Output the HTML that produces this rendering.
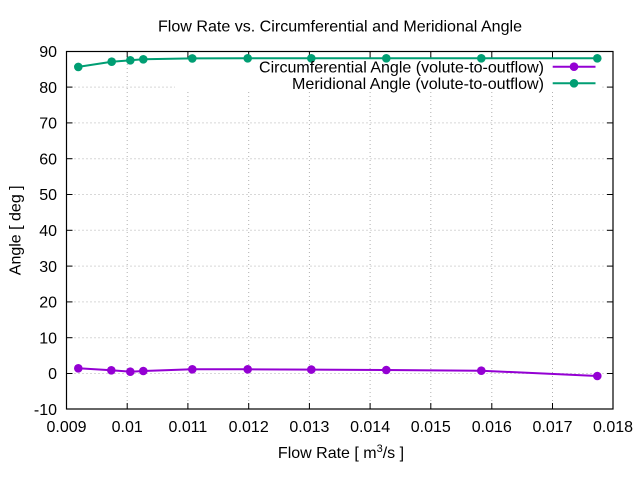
<!DOCTYPE html>
<html><head><meta charset="utf-8"><style>
html,body{margin:0;padding:0;background:#fff}
svg{display:block}
text{font-family:"Liberation Sans",Arial,sans-serif;fill:#000}
</style></head><body>
<svg width="640" height="480" viewBox="0 0 640 480" xmlns="http://www.w3.org/2000/svg">
<rect x="0" y="0" width="640" height="480" fill="#fff"/>
<!-- grid -->
<g stroke="#b0b0b0" stroke-width="1" stroke-dasharray="1,3" fill="none">
<line x1="127.2" y1="409" x2="127.2" y2="51.5"/>
<line x1="187.9" y1="409" x2="187.9" y2="51.5"/>
<line x1="248.7" y1="409" x2="248.7" y2="51.5"/>
<line x1="309.4" y1="409" x2="309.4" y2="51.5"/>
<line x1="370.1" y1="409" x2="370.1" y2="51.5"/>
<line x1="430.8" y1="409" x2="430.8" y2="51.5"/>
<line x1="491.8" y1="409" x2="491.8" y2="51.5"/>
<line x1="552.5" y1="409" x2="552.5" y2="51.5"/>
<line x1="66.5" y1="87.1" x2="613" y2="87.1"/>
<line x1="66.5" y1="122.9" x2="613" y2="122.9"/>
<line x1="66.5" y1="158.7" x2="613" y2="158.7"/>
<line x1="66.5" y1="194.5" x2="613" y2="194.5"/>
<line x1="66.5" y1="230.3" x2="613" y2="230.3"/>
<line x1="66.5" y1="266.1" x2="613" y2="266.1"/>
<line x1="66.5" y1="301.9" x2="613" y2="301.9"/>
<line x1="66.5" y1="337.7" x2="613" y2="337.7"/>
<line x1="66.5" y1="373.5" x2="613" y2="373.5"/>
</g>
<!-- key opaque box -->
<rect x="175" y="60" width="425" height="32" fill="#fff"/>
<!-- ticks -->
<g stroke="#000" stroke-width="1">
<line x1="127.2" y1="409" x2="127.2" y2="403"/><line x1="127.2" y1="51.5" x2="127.2" y2="57.5"/>
<line x1="187.9" y1="409" x2="187.9" y2="403"/><line x1="187.9" y1="51.5" x2="187.9" y2="57.5"/>
<line x1="248.7" y1="409" x2="248.7" y2="403"/><line x1="248.7" y1="51.5" x2="248.7" y2="57.5"/>
<line x1="309.4" y1="409" x2="309.4" y2="403"/><line x1="309.4" y1="51.5" x2="309.4" y2="57.5"/>
<line x1="370.1" y1="409" x2="370.1" y2="403"/><line x1="370.1" y1="51.5" x2="370.1" y2="57.5"/>
<line x1="430.8" y1="409" x2="430.8" y2="403"/><line x1="430.8" y1="51.5" x2="430.8" y2="57.5"/>
<line x1="491.8" y1="409" x2="491.8" y2="403"/><line x1="491.8" y1="51.5" x2="491.8" y2="57.5"/>
<line x1="552.5" y1="409" x2="552.5" y2="403"/><line x1="552.5" y1="51.5" x2="552.5" y2="57.5"/>
<line x1="66.5" y1="87.1" x2="72.5" y2="87.1"/><line x1="613" y1="87.1" x2="607" y2="87.1"/>
<line x1="66.5" y1="122.9" x2="72.5" y2="122.9"/><line x1="613" y1="122.9" x2="607" y2="122.9"/>
<line x1="66.5" y1="158.7" x2="72.5" y2="158.7"/><line x1="613" y1="158.7" x2="607" y2="158.7"/>
<line x1="66.5" y1="194.5" x2="72.5" y2="194.5"/><line x1="613" y1="194.5" x2="607" y2="194.5"/>
<line x1="66.5" y1="230.3" x2="72.5" y2="230.3"/><line x1="613" y1="230.3" x2="607" y2="230.3"/>
<line x1="66.5" y1="266.1" x2="72.5" y2="266.1"/><line x1="613" y1="266.1" x2="607" y2="266.1"/>
<line x1="66.5" y1="301.9" x2="72.5" y2="301.9"/><line x1="613" y1="301.9" x2="607" y2="301.9"/>
<line x1="66.5" y1="337.7" x2="72.5" y2="337.7"/><line x1="613" y1="337.7" x2="607" y2="337.7"/>
<line x1="66.5" y1="373.5" x2="72.5" y2="373.5"/><line x1="613" y1="373.5" x2="607" y2="373.5"/>
</g>
<!-- border -->
<rect x="66.5" y="51.5" width="546.5" height="357.5" fill="none" stroke="#000" stroke-width="1.2"/>
<!-- y tick labels -->
<g font-size="16" text-anchor="end">
<text x="57" y="57">90</text>
<text x="57" y="92.8">80</text>
<text x="57" y="128.6">70</text>
<text x="57" y="164.4">60</text>
<text x="57" y="200.2">50</text>
<text x="57" y="236">40</text>
<text x="57" y="271.8">30</text>
<text x="57" y="307.6">20</text>
<text x="57" y="343.4">10</text>
<text x="57" y="379.2">0</text>
<text x="57" y="415">-10</text>
</g>
<!-- x tick labels -->
<g font-size="16" text-anchor="middle">
<text x="66.5" y="431.8">0.009</text>
<text x="127.2" y="431.8">0.01</text>
<text x="187.9" y="431.8">0.011</text>
<text x="248.7" y="431.8">0.012</text>
<text x="309.4" y="431.8">0.013</text>
<text x="370.1" y="431.8">0.014</text>
<text x="430.8" y="431.8">0.015</text>
<text x="491.8" y="431.8">0.016</text>
<text x="552.5" y="431.8">0.017</text>
<text x="613" y="431.8">0.018</text>
</g>
<!-- title -->
<text x="340" y="31.7" font-size="16" text-anchor="middle" textLength="364" lengthAdjust="spacingAndGlyphs">Flow Rate vs. Circumferential and Meridional Angle</text>
<!-- axis labels -->
<text x="341" y="458" font-size="16" text-anchor="middle">Flow Rate [ m<tspan font-size="11" dy="-6">3</tspan><tspan dy="6">/s ]</tspan></text>
<text transform="translate(20.7,230.3) rotate(-90)" font-size="16" text-anchor="middle">Angle [ deg ]</text>
<!-- series: circumferential -->
<g stroke="#9400d3" fill="#9400d3">
<polyline fill="none" stroke-width="2" points="78.3,368.3 111.3,370.3 130.3,371.7 143.3,371 192.3,369.3 247.7,369.3 311.3,369.6 386.3,370 481.3,370.7 597.3,376"/>
<g stroke="none">
<circle cx="78.3" cy="368.3" r="4.3"/><circle cx="111.3" cy="370.3" r="4.3"/><circle cx="130.3" cy="371.7" r="4.3"/><circle cx="143.3" cy="371" r="4.3"/><circle cx="192.3" cy="369.3" r="4.3"/><circle cx="247.7" cy="369.3" r="4.3"/><circle cx="311.3" cy="369.6" r="4.3"/><circle cx="386.3" cy="370" r="4.3"/><circle cx="481.3" cy="370.7" r="4.3"/><circle cx="597.3" cy="376" r="4.3"/>
</g>
</g>
<!-- series: meridional -->
<g stroke="#009e73" fill="#009e73">
<polyline fill="none" stroke-width="2" points="78.3,66.9 111.7,61.7 130.3,60.3 143.3,59.3 192.3,58.4 247.7,58.3 311.3,58.3 386.3,58.3 481.3,58.3 597.3,58.3"/>
<g stroke="none">
<circle cx="78.3" cy="66.9" r="4.3"/><circle cx="111.7" cy="61.7" r="4.3"/><circle cx="130.3" cy="60.3" r="4.3"/><circle cx="143.3" cy="59.3" r="4.3"/><circle cx="192.3" cy="58.4" r="4.3"/><circle cx="247.7" cy="58.3" r="4.3"/><circle cx="311.3" cy="58.3" r="4.3"/><circle cx="386.3" cy="58.3" r="4.3"/><circle cx="481.3" cy="58.3" r="4.3"/><circle cx="597.3" cy="58.3" r="4.3"/>
</g>
</g>
<!-- legend -->
<g font-size="16" text-anchor="end">
<text x="544" y="72.3" textLength="285" lengthAdjust="spacingAndGlyphs">Circumferential Angle (volute-to-outflow)</text>
<text x="544" y="88.9" textLength="252" lengthAdjust="spacingAndGlyphs">Meridional Angle (volute-to-outflow)</text>
</g>
<line x1="552.7" y1="66.7" x2="595.5" y2="66.7" stroke="#9400d3" stroke-width="2"/>
<circle cx="574" cy="66.7" r="4.3" fill="#9400d3"/>
<line x1="552.7" y1="83.3" x2="595.5" y2="83.3" stroke="#009e73" stroke-width="2"/>
<circle cx="574" cy="83.3" r="4.3" fill="#009e73"/>
</svg>
</body></html>
